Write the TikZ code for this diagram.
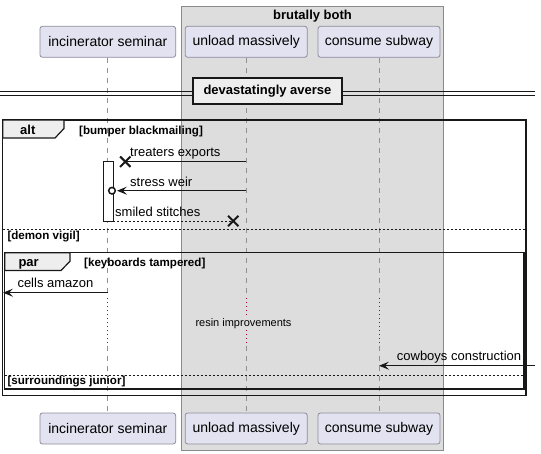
\documentclass[tikz,border=0pt]{standalone}
\usepackage{fontspec}
\setmainfont{Liberation Sans}
\usetikzlibrary{arrows.meta}
\definecolor{partfill}{HTML}{E2E2F0}
\definecolor{partdraw}{HTML}{8C8C9C}
\definecolor{boxfill}{HTML}{DDDDDD}
\definecolor{boxdraw}{HTML}{8A8A8A}
\definecolor{tabfill}{HTML}{EEEEEE}
\definecolor{lifecol}{HTML}{909090}
\definecolor{delaycol}{HTML}{A80036}
\definecolor{ink}{HTML}{181818}
\tikzset{
  part/.style={draw=partdraw, fill=partfill, rounded corners=2.5pt, line width=0.8pt, inner sep=0pt, minimum height=31pt, font=\fontsize{14}{16}\selectfont},
  life/.style={draw=lifecol, line width=0.8pt, dash pattern=on 5pt off 5pt},
  delay/.style={draw=delaycol, line width=1pt, dash pattern=on 1.2pt off 2.8pt},
  msg/.style={draw=ink, line width=1pt},
  msgdash/.style={draw=ink, line width=1pt, dash pattern=on 2pt off 2pt},
  tip/.style={-{Stealth[length=10pt,width=8pt,inset=4pt]}},
  mtext/.style={anchor=base west, inner sep=0pt, font=\fontsize{13}{15}\selectfont},
  ctext/.style={anchor=base west, inner sep=0pt, font=\fontsize{11.6}{13}\selectfont\bfseries},
  frame/.style={draw=ink, line width=1.5pt},
  sep/.style={draw=ink, line width=0.8pt, dash pattern=on 2pt off 2pt},
  tab/.style={draw=ink, line width=1.2pt, fill=tabfill},
  cross/.style={draw=ink, line width=2pt},
}
\begin{document}
\begin{tikzpicture}[x=1pt,y=-1pt]
\useasboundingbox (0,0) rectangle (541,453);
% box
\draw[draw=boxdraw, fill=boxfill, line width=0.8pt] (181.7,6) rectangle (443.3,450.5);
\node[anchor=base, inner sep=0pt, font=\fontsize{13}{15}\selectfont\bfseries] (boxt) at (312.5,19) {brutally both};
% participants
\node[part, minimum width=135.7pt] (isT) at (107.8,41.8) {incinerator seminar};
\node[part, minimum width=122pt] (umT) at (246.2,41.8) {unload massively};
\node[part, minimum width=122pt] (csT) at (379,41.8) {consume subway};
\node[part, minimum width=135.7pt] (isB) at (107.8,428.5) {incinerator seminar};
\node[part, minimum width=122pt] (umB) at (246.2,428.5) {unload massively};
\node[part, minimum width=122pt] (csB) at (379,428.5) {consume subway};
% lifelines with delay
\coordinate (isD1) at (107.8,298); \coordinate (isD2) at (107.8,346);
\coordinate (umD1) at (246.2,298); \coordinate (umD2) at (246.2,346);
\coordinate (umD3) at (246.2,316); \coordinate (umD4) at (246.2,330);
\coordinate (csD1) at (379,298); \coordinate (csD2) at (379,346);
\draw[life] (isT.south) -- (isD1); \draw[life] (isD2) -- (isB.north);
\draw[life] (umT.south) -- (umD1); \draw[life] (umD2) -- (umB.north);
\draw[life] (csT.south) -- (csD1); \draw[life] (csD2) -- (csB.north);
\draw[delay] (isD1) -- (isD2);
\draw[delay] (umD1) -- (umD3); \draw[delay] (umD4) -- (umD2);
\draw[delay] (csD1) -- (csD2);
% divider
\coordinate (dvL1) at (0,91.3); \coordinate (dvR1) at (535,91.3);
\coordinate (dvL2) at (0,95.3); \coordinate (dvR2) at (535,95.3);
\draw[draw=ink, line width=1pt] (dvL1) -- (dvR1);
\draw[draw=ink, line width=1pt] (dvL2) -- (dvR2);
\node[draw=ink, fill=tabfill, line width=2pt, minimum width=149.6pt, minimum height=26pt, inner sep=0pt, font=\fontsize{13}{15}\selectfont\bfseries] (div) at (267.5,91.3) {devastatingly averse};
% alt frame
\draw[frame] (2.7,120) rectangle (526,395.3);
\draw[tab] (2.7,120) -- (64,120) -- (64,128.5) -- (55,138) -- (2.7,138) -- cycle;
\node[anchor=base west, inner sep=0pt, font=\fontsize{13}{15}\selectfont\bfseries] (altl) at (20,134) {alt};
\node[ctext] (c1) at (79,134) {[bumper blackmailing]};
\draw[sep] (2.7,229.3) -- (526,229.3);
\node[ctext] (c2) at (7.3,239.5) {[demon vigil]};
% par frame
\draw[frame] (4.7,252.7) rectangle (524,389);
\draw[tab] (4.7,252.7) -- (70,252.7) -- (70,261.2) -- (61,270.5) -- (4.7,270.5) -- cycle;
\node[anchor=base west, inner sep=0pt, font=\fontsize{13}{15}\selectfont\bfseries] (parl) at (18.3,266) {par};
\node[ctext] (c3) at (84,266) {[keyboards tampered]};
\draw[sep] (4.7,375) -- (524,375);
\node[ctext] (c4) at (7.3,384.5) {[surroundings junior]};
% activation
\node[draw=ink, fill=white, line width=1pt, minimum width=10pt, minimum height=59.3pt, inner sep=0pt] (act) at (108.3,191.35) {};
% message 1
\coordinate (m1s) at (246.2,161.7); \coordinate (m1e) at (125.3,161.7);
\draw[msg] (m1s) -- (m1e);
\draw[cross] ([shift={(-5.2,-5.2)}]m1e) -- ([shift={(5.2,5.2)}]m1e);
\draw[cross] ([shift={(-5.2,5.2)}]m1e) -- ([shift={(5.2,-5.2)}]m1e);
\node[mtext] (t1) at (130,156.5) {treaters exports};
% message 2
\coordinate (m2s) at (246.2,190.7); \coordinate (m2e) at (117,190.7); \coordinate (m2c) at (112,190.7);
\draw[msg, tip] (m2s) -- (m2e);
\draw[msg, line width=1.5pt, fill=white] (m2c) circle[radius=3.3pt];
\node[mtext] (t2) at (130,186) {stress weir};
% message 3
\coordinate (m3s) at (113.3,221); \coordinate (m3e) at (233.3,221);
\draw[msgdash] (m3s) -- (m3e);
\draw[cross] ([shift={(-5.2,-5.2)}]m3e) -- ([shift={(5.2,5.2)}]m3e);
\draw[cross] ([shift={(-5.2,5.2)}]m3e) -- ([shift={(5.2,-5.2)}]m3e);
\node[mtext] (t3) at (115,216) {smiled stitches};
% message 4
\coordinate (m4s) at (107.8,292.7); \coordinate (m4e) at (3,292.7);
\draw[msg, tip] (m4s) -- (m4e);
\node[mtext] (t4) at (17.3,287.3) {cells amazon};
% delay text
\node[anchor=base west, inner sep=0pt, font=\fontsize{11}{13}\selectfont] (dl) at (195.3,326.5) {resin improvements};
% message 6
\coordinate (m6s) at (535,365.7); \coordinate (m6e) at (379,365.7);
\draw[msg, tip] (m6s) -- (m6e);
\node[mtext] (t6) at (396.7,360.7) {cowboys construction};
\end{tikzpicture}
\end{document}
